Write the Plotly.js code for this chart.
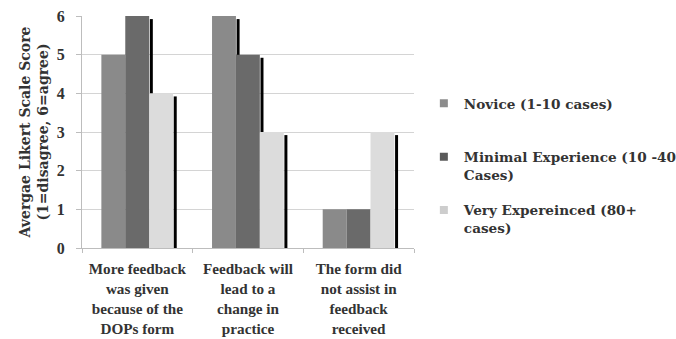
<!DOCTYPE html>
<html>
<head>
<meta charset="utf-8">
<script src="https://cdn.plot.ly/plotly-3.0.1.min.js"></script>
<style>html,body{margin:0;padding:0;background:#fff;}#chart{width:676px;height:339px;}</style>
</head>
<body>
<div id="chart"></div>
<script>
// Data
const categories = [
  "More feedback<br>was given<br>because of the<br>DOPs form",
  "Feedback will<br>lead to a<br>change in<br>practice",
  "The form did<br>not assist in<br>feedback<br>received"
];
const seriesNames = [
  "Novice (1-10 cases)<br>&nbsp;",
  "Minimal Experience (10 -40<br>Cases)",
  "Very Expereinced (80+<br>cases)"
];
const novice = [5, 6, 1];
const minimal = [6, 5, 1];
const veryExp = [4, 3, 3];
const yTicks = [0, 1, 2, 3, 4, 5, 6];

const seriesValues = [novice, minimal, veryExp];
const barColors = ["#8a8a8a", "#6a6a6a", "#dcdcdc"];
const legendColors = ["#8c8c8c", "#5a5a5a", "#cdcdcd"];
const barW = 0.216;
const start = -0.325;
const shadowW = 0.027;
const shadowDrop = 0.08;

const FONT = "Liberation Serif, serif";
const WFONT = "DejaVu Serif, serif";
const traces = [];
seriesValues.forEach((vals, i) => {
  traces.push({
    type: "bar", x: categories, y: vals, name: seriesNames[i],
    width: barW, offset: start + i * barW,
    marker: {color: barColors[i], line: {width: 0}},
    showlegend: false, hoverinfo: "y"
  });
  traces.push({
    type: "bar", x: categories, y: vals.map(v => v - shadowDrop),
    width: shadowW, offset: start + (i + 1) * barW + 0.006,
    marker: {color: "#000000", line: {width: 0}},
    showlegend: false, hoverinfo: "skip"
  });
});
// legend-only entries (small square keys)
seriesNames.forEach((nm, i) => {
  traces.push({
    type: "scatter", mode: "markers", x: [null], y: [null], name: nm,
    marker: {symbol: "square", size: 8, color: legendColors[i]},
    legendgroup: "g" + i, showlegend: true, hoverinfo: "skip"
  });
});

const layout = {
  width: 676, height: 339,
  margin: {l: 82, r: 262, t: 16, b: 91, autoexpand: false},
  paper_bgcolor: "#ffffff", plot_bgcolor: "#ffffff",
  barmode: "overlay",
  font: {family: FONT, size: 14, color: "#3a3a3a"},
  xaxis: {
    type: "category", tickson: "boundaries", ticks: "outside", ticklen: 4,
    tickcolor: "#bdbdbd", showline: true, linecolor: "#bdbdbd", linewidth: 1,
    ticklabelstandoff: 7, tickangle: 0, automargin: false,
    tickfont: {family: FONT, size: 15.2, color: "#333333", weight: "bold"},
    showgrid: false, zeroline: false, fixedrange: true
  },
  yaxis: {
    range: [0, 6], tickvals: yTicks, ticktext: yTicks.map(String),
    ticks: "outside", ticklen: 5, tickcolor: "#bdbdbd",
    showline: true, linecolor: "#bdbdbd", linewidth: 1,
    showgrid: true, gridcolor: "#d4d4d4", gridwidth: 1, zeroline: false,
    ticklabelstandoff: 8, automargin: false,
    tickfont: {family: FONT, size: 16, color: "#333333", weight: "bold"},
    title: {text: "Avergae Likert Scale Score<br>(1=disagree, 6=agree)", standoff: 4,
            font: {family: WFONT, size: 14, color: "#333333", weight: "bold"}}
  },
  legend: {
    xref: "container", yref: "container",
    x: 0.627, xanchor: "left", y: 0.7404, yanchor: "top",
    valign: "top", tracegroupgap: 15, itemwidth: 30,
    font: {family: WFONT, size: 13.6, color: "#333333", weight: "bold"},
    bgcolor: "rgba(0,0,0,0)"
  },
  showlegend: true
};

Plotly.newPlot("chart", traces, layout, {displayModeBar: false, staticPlot: true});
</script>
</body>
</html>
